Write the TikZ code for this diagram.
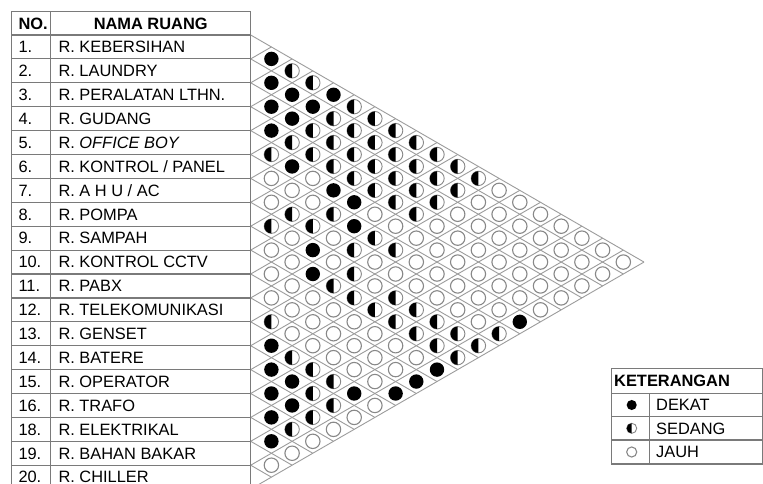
\documentclass[tikz,border=0pt]{standalone}
\usepackage{fontspec}
\setmainfont{Liberation Sans}
\usetikzlibrary{calc}
\definecolor{tablegray}{HTML}{7A7A7A}
\definecolor{gridgray}{HTML}{9C9C9C}
\definecolor{ringgray}{HTML}{888888}

\tikzset{
    symB/.pic={\fill[black] (0,0) circle[radius=7.2];},
    symH/.pic={\draw[ringgray, fill=white, line width=0.9] (0,0) circle[radius=7.2];
               \fill[black] (0,7.2) arc[start angle=90, end angle=270, radius=7.2] -- cycle;},
    symW/.pic={\draw[ringgray, fill=white, line width=1.1] (0,0) circle[radius=7.2];},
}

\begin{document}
\begin{tikzpicture}[
    x=1pt, y=-1pt,
    every node/.style={font=\fontsize{16.4}{19}\selectfont, inner sep=0pt},
    tabline/.style={draw=tablegray, line width=1.2},
    gridline/.style={draw=gridgray, line width=0.9},
]

% Background
\useasboundingbox (0,0) rectangle (763,484);
\clip (0,0) rectangle (763,484);
\fill[white] (0,0) rectangle (763,484);

\pgfmathsetmacro{\xo}{250.7} % right edge of the table
\pgfmathsetmacro{\yo}{35}    % top of row 1
\pgfmathsetmacro{\rh}{23.9}  % row height
\pgfmathsetmacro{\hw}{20.7}  % half width of one diamond

% === Diamond grid ===
\foreach \k in {0,...,19}{
    \draw[gridline] (\xo,{\yo+\k*\rh}) -- ({\xo+(19-\k)*\hw},{\yo+(19+\k)*\rh/2});
    \draw[gridline] (\xo,{\yo+\k*\rh}) -- ({\xo+\k*\hw},{\yo+\k*\rh/2});
}

% === Table ===
\draw[tabline] (11.7,11.7) rectangle (\xo,{\yo+19*\rh});
\draw[tabline] (50.7,11.7) -- (50.7,{\yo+19*\rh});
\foreach \k in {0,...,18}
    \draw[tabline] (11.7,{\yo+\k*\rh}) -- (\xo,{\yo+\k*\rh});

\node[font=\fontsize{16.4}{19}\selectfont\bfseries, anchor=base west] (no) at (18.3,29.2) {NO.};
\node[font=\fontsize{16.4}{19}\selectfont\bfseries, anchor=base] (nama) at (150.7,29.2) {NAMA RUANG};

\foreach \no/\nama [count=\r] in {1./R. KEBERSIHAN, 2./R. LAUNDRY, 3./R. PERALATAN LTHN.,
        4./R. GUDANG, 5./{R. \textit{OFFICE BOY}}, 6./{R. KONTROL / PANEL}, 7./{R. A H U / AC},
        8./R. POMPA, 9./R. SAMPAH, 10./R. KONTROL CCTV, 11./R. PABX, 12./R. TELEKOMUNIKASI,
        13./R. GENSET, 14./R. BATERE, 15./R. OPERATOR, 16./R. TRAFO, 18./R. ELEKTRIKAL,
        19./R. BAHAN BAKAR, 20./R. CHILLER}{
    \node[anchor=base west] (no\r) at (18.3,{\yo+(\r-0.5)*\rh+5.8}) {\no};
    \node[anchor=base west] (nama\r) at (58.3,{\yo+(\r-0.5)*\rh+5.8}) {\nama};
}

% === Relations (B = dekat, H = sedang, W = jauh) ===
\foreach \i/\row in {
        1/{B,H,H,B,H,H,H,H,H,H,H,W,W,W,W,W,W,W},
        2/{B,B,B,H,H,H,H,H,H,H,W,W,W,W,W,W,W},
        3/{B,B,H,H,H,H,H,H,H,W,W,W,W,W,W,W},
        4/{B,H,H,H,H,H,H,H,W,W,W,W,W,W,W},
        5/{H,B,W,B,B,W,W,W,W,W,W,W,W,W},
        6/{W,W,W,H,B,H,H,W,W,W,W,W,B},
        7/{W,H,H,W,H,W,W,W,W,W,W,H},
        8/{H,W,B,W,H,W,H,H,H,H,H},
        9/{W,W,B,H,H,H,H,H,H,H},
        10/{W,W,W,W,W,W,W,W,B},
        11/{W,W,W,W,W,W,W,B},
        12/{H,W,W,W,W,W,B},
        13/{B,H,H,H,B,W},
        14/{B,B,H,H,W},
        15/{B,B,H,W},
        16/{B,H,W},
        17/{B,W},
        18/{W}}{
    \foreach \v [count=\c] in \row
        \pic at ({\xo+\c*\hw},{\yo+(2*\i+\c-1)*\rh/2}) {sym\v};
}

% === Legend ===
\draw[tabline] (611.7,368.3) rectangle (762.4,464);
\foreach \ly in {393.3,416.7,440}
    \draw[tabline] (611.7,\ly) -- (762.4,\ly);
\draw[tabline] (649.3,393.3) -- (649.3,464);

\node[font=\fontsize{16.4}{19}\selectfont\bfseries, anchor=base west] (ket) at (614,386.6) {KETERANGAN};
\pic[scale=0.7] at (631.7,405) {symB};
\pic[scale=0.7] at (631.7,428.3) {symH};
\pic[scale=0.7] at (631.7,452) {symW};
\node[anchor=base west] (dekat) at (656,410.8) {DEKAT};
\node[anchor=base west] (sedang) at (656,434.1) {SEDANG};
\node[anchor=base west] (jauh) at (656,457.8) {JAUH};

\end{tikzpicture}
\end{document}
